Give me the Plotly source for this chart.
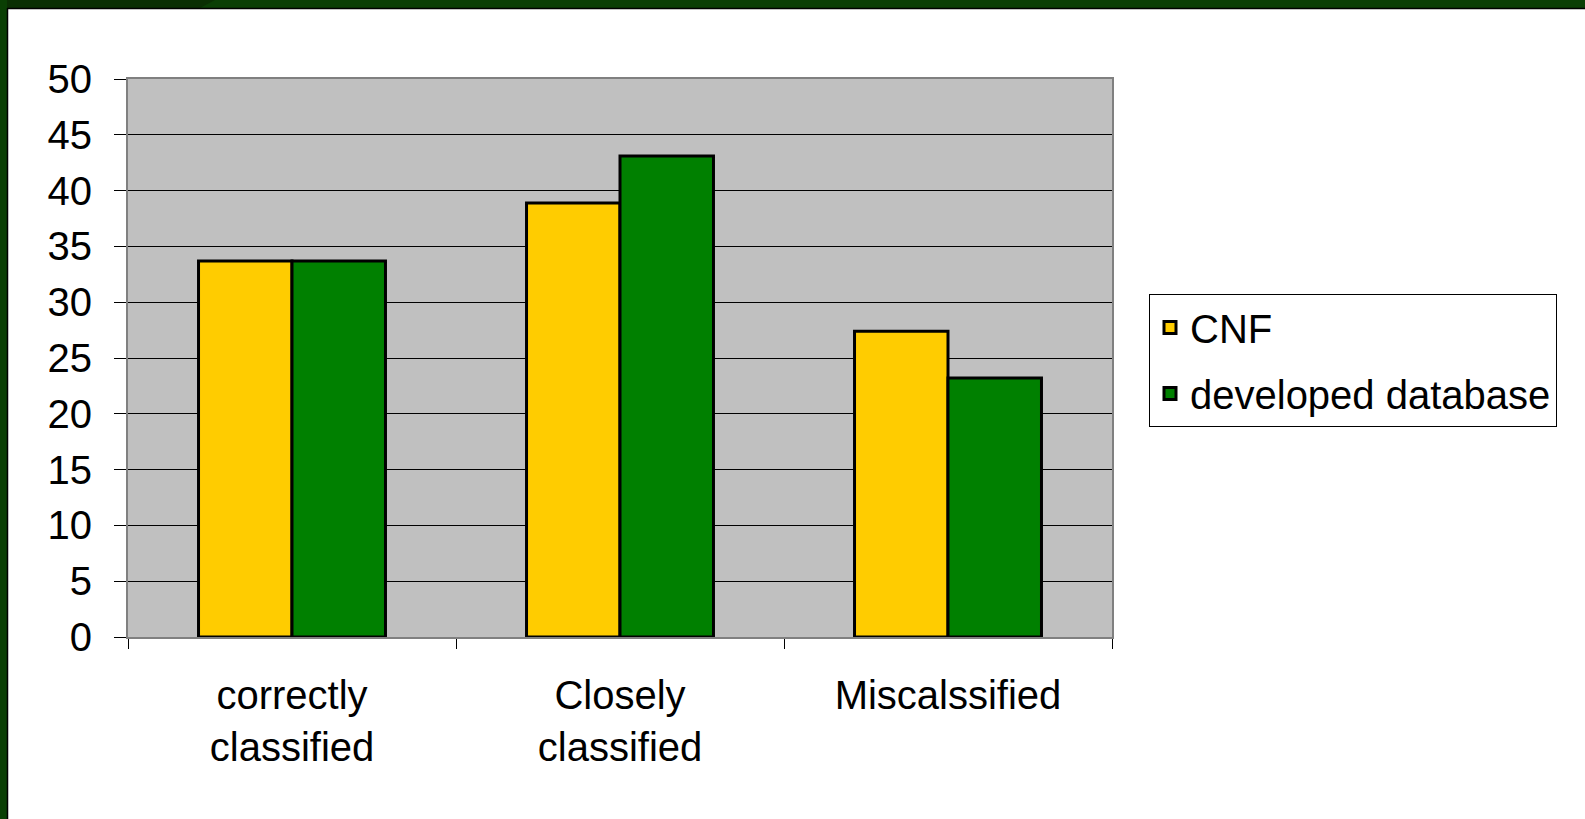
import plotly.graph_objects as go

categories = ["correctly<br>classified", "Closely<br>classified", "Miscalssified"]
cnf_values = [33.7, 38.9, 27.4]
developed_values = [33.7, 43.1, 23.2]
series_names = ["CNF", "developed database"]
y_ticks = list(range(0, 55, 5))

W, H = 1585, 819
L, R, T, B = 128, 1112, 79, 637  # plot area in pixels

def px_x(p):
    return (p - L) / (R - L)

def px_y(p):
    return (B - p) / (B - T)

FONT = "Liberation Sans, Arial, sans-serif"

fig = go.Figure()
fig.add_trace(go.Bar(
    x=categories, y=cnf_values, name=series_names[0],
    marker=dict(color="#FFCC00", line=dict(color="#000000", width=3)),
    legendgroup="a",
))
fig.add_trace(go.Bar(
    x=categories, y=developed_values, name=series_names[1],
    marker=dict(color="#008000", line=dict(color="#000000", width=3)),
    legendgroup="b",
))

shapes = [
    # slide frame: dark green bands on top and left
    dict(type="rect", xref="paper", yref="paper", x0=px_x(0), x1=px_x(W), y0=px_y(0), y1=px_y(8),
         fillcolor="#0b3f05", line_width=0, layer="above"),
    dict(type="path", xref="paper", yref="paper",
         path=f"M {px_x(0)},{px_y(0)} L {px_x(215)},{px_y(0)} L {px_x(200)},{px_y(8)} L {px_x(0)},{px_y(8)} Z",
         fillcolor="#0a2f03", line_width=0, layer="above"),
    dict(type="rect", xref="paper", yref="paper", x0=px_x(0), x1=px_x(7), y0=px_y(0), y1=px_y(H),
         fillcolor="#0a3f04", line_width=0, layer="above"),
    dict(type="line", xref="paper", yref="paper", x0=px_x(7), x1=px_x(W), y0=px_y(8.5), y1=px_y(8.5),
         line=dict(color="#000000", width=1.5), layer="above"),
    dict(type="line", xref="paper", yref="paper", x0=px_x(7.5), x1=px_x(7.5), y0=px_y(8), y1=px_y(H),
         line=dict(color="#000000", width=1.5), layer="above"),
]

fig.update_layout(
    width=W, height=H,
    margin=dict(l=L, r=W - R, t=T, b=H - B, pad=0),
    paper_bgcolor="#FFFFFF",
    plot_bgcolor="#C0C0C0",
    barmode="group",
    bargap=0.43,
    bargroupgap=0,
    font=dict(family=FONT, size=40, color="#000000"),
    showlegend=True,
    legend=dict(
        x=px_x(1149), y=px_y(294), xanchor="left", yanchor="top",
        bgcolor="#FFFFFF", bordercolor="#000000", borderwidth=1,
        font=dict(family=FONT, size=40, color="#000000"),
        traceorder="grouped", tracegroupgap=11,
    ),
    shapes=shapes,
)

fig.update_xaxes(
    type="category",
    tickson="boundaries",
    ticks="outside", ticklen=10, tickcolor="#000000", tickwidth=1,
    showline=True, linecolor="#808080", linewidth=2, mirror=True,
    showgrid=False,
    tickfont=dict(family=FONT, size=40, color="#000000"),
    ticklabelstandoff=22,
)
fig.update_yaxes(
    range=[0, 50], tickvals=y_ticks,
    ticks="outside", ticklen=12, tickcolor="#000000", tickwidth=1,
    showline=True, linecolor="#808080", linewidth=2, mirror=True,
    showgrid=True, gridcolor="#000000", gridwidth=1,
    zeroline=False,
    tickfont=dict(family=FONT, size=40, color="#000000"),
    ticklabelstandoff=14,
)

fig.write_html("out.html")
